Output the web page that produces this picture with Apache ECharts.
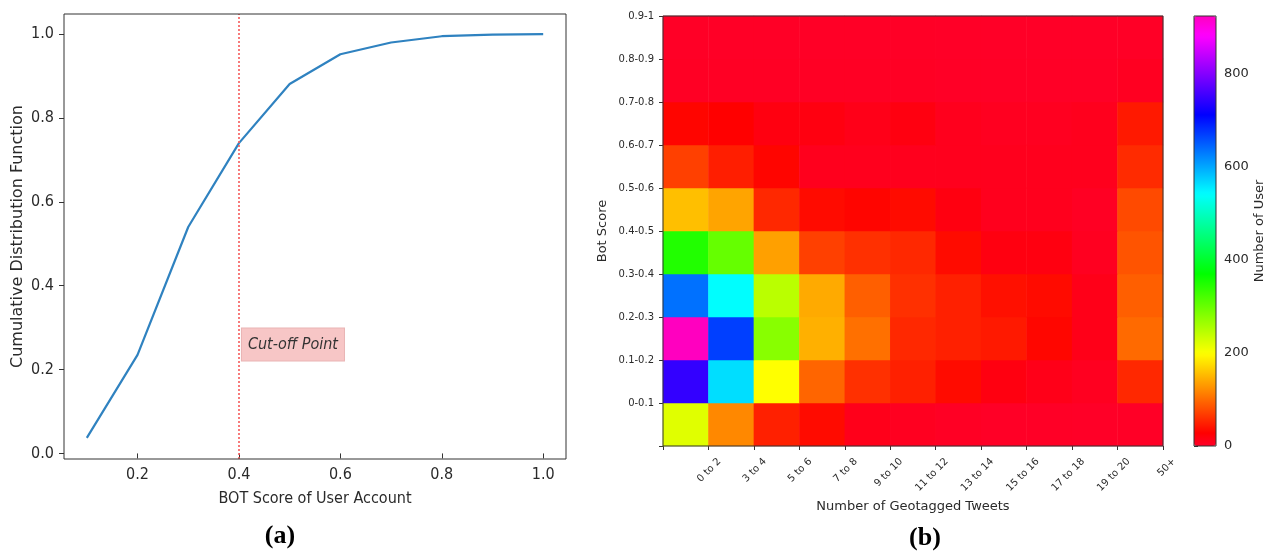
<!DOCTYPE html>
<html>
<head>
<meta charset="utf-8">
<script src="https://cdn.jsdelivr.net/npm/echarts@6/dist/echarts.min.js"></script>
<style>html,body{margin:0;padding:0;background:#fff;}#c{width:1268px;height:552px;}</style>
</head>
<body>
<div id="c"></div>
<script>
// ---------- Data: panel (a) CDF ----------
const cdfX = [0.1, 0.2, 0.3, 0.4, 0.5, 0.6, 0.7, 0.8, 0.9, 1.0];
const cdfY = [0.037, 0.235, 0.540, 0.740, 0.881, 0.952, 0.980, 0.995, 0.999, 1.0];
const cdfXTicks = [0.2, 0.4, 0.6, 0.8, 1.0];
const cdfYTicks = [0.0, 0.2, 0.4, 0.6, 0.8, 1.0];
const cutoffX = 0.4;
const cutoffLabelY = 0.26;
const cutoffText = 'Cut-off Point';

// ---------- Data: panel (b) heatmap ----------
const tweetLabels = ['0 to 2', '3 to 4', '5 to 6', '7 to 8', '9 to 10', '11 to 12', '13 to 14', '15 to 16', '17 to 18', '19 to 20', '50+'];
const botLabels = ['0-0.1', '0.1-0.2', '0.2-0.3', '0.3-0.4', '0.4-0.5', '0.5-0.6', '0.6-0.7', '0.7-0.8', '0.8-0.9', '0.9-1'];
// one array per bot-score row (bottom to top), 11 values each (left to right)
const row0 = [220, 119, 49, 35, 10, 6, 3, 2, 2, 1, 2];
const row1 = [746, 564, 199, 96, 60, 49, 35, 17, 11, 6, 55];
const row2 = [925, 670, 279, 146, 103, 55, 49, 44, 32, 11, 99];
const row3 = [637, 542, 245, 142, 92, 60, 49, 38, 35, 11, 92];
const row4 = [348, 302, 135, 71, 60, 55, 35, 17, 17, 6, 84];
const row5 = [156, 138, 55, 35, 31, 35, 17, 8, 8, 4, 77];
const row6 = [71, 48, 31, 8, 8, 8, 8, 8, 8, 8, 57];
const row7 = [31, 28, 17, 17, 11, 17, 8, 6, 6, 8, 44];
const row8 = [3, 3, 3, 3, 3, 3, 2, 2, 2, 2, 5];
const row9 = [2, 2, 2, 2, 2, 2, 1, 1, 1, 1, 2];
const heatRows = [row0, row1, row2, row3, row4, row5, row6, row7, row8, row9];
const colorMax = 925;
const colorbarTicks = [0, 200, 400, 600, 800];

// ---------- gist_rainbow colormap ----------
const gistStops = [[0, [1, 0, 0.16]], [0.03, [1, 0, 0]], [0.215, [1, 1, 0]], [0.4, [0, 1, 0]],
  [0.586, [0, 1, 1]], [0.77, [0, 0, 1]], [0.954, [1, 0, 1]], [1, [1, 0, 0.75]]];
function gist(t) {
  for (let i = 1; i < gistStops.length; i++) {
    const [t1, c1] = gistStops[i];
    const [t0, c0] = gistStops[i - 1];
    if (t <= t1) {
      const f = (t - t0) / (t1 - t0);
      const c = c0.map((v, k) => Math.round(255 * (v + (c1[k] - v) * f)));
      return 'rgb(' + c.join(',') + ')';
    }
  }
  return 'rgb(255,0,191)';
}
const cmap = [];
for (let i = 0; i <= 200; i++) cmap.push(gist(i / 200));

const heatData = [];
heatRows.forEach((row, r) => row.forEach((v, c) => heatData.push([c, r, v])));

const condensed = "'DejaVu Sans Condensed', 'DejaVu Sans', sans-serif";
const regular = "'DejaVu Sans', sans-serif";
const txt = '#2a2a2a';
const frame = '#333';
const cutColor = '#f55a5a';
const gridBase = { show: true, z: 10, backgroundColor: 'rgba(0,0,0,0)', borderColor: frame, borderWidth: 1, outerBoundsMode: 'none', containLabel: false };

const chart = echarts.init(document.getElementById('c'), null, { renderer: 'canvas' });
chart.setOption({
  backgroundColor: '#fff',
  animation: false,
  title: [
    { text: '(a)', left: 280, top: 523, textAlign: 'center', padding: 0,
      textStyle: { fontFamily: "'Liberation Serif', serif", fontWeight: 'bold', fontSize: 26, color: '#000' } },
    { text: '(b)', left: 925, top: 525, textAlign: 'center', padding: 0,
      textStyle: { fontFamily: "'Liberation Serif', serif", fontWeight: 'bold', fontSize: 26, color: '#000' } }
  ],
  grid: [
    Object.assign({ left: 64, top: 14, width: 502, height: 445 }, gridBase),
    Object.assign({ left: 663, top: 16, width: 500, height: 430 }, gridBase),
    Object.assign({ left: 1194, top: 16, width: 22, height: 430 }, gridBase),
    { left: 674, top: 16, width: 500, height: 430, show: false, outerBoundsMode: 'none', containLabel: false }
  ],
  xAxis: [
    { type: 'value', gridIndex: 0, position: 'bottom', min: 0.055, max: 1.045, splitLine: { show: false },
      axisLine: { show: false },
      axisTick: { show: true, length: 5, customValues: cdfXTicks, lineStyle: { color: frame } },
      axisLabel: { customValues: cdfXTicks, formatter: v => v.toFixed(1), margin: 8, fontSize: 16, fontFamily: condensed, color: txt },
      name: 'BOT Score of User Account', nameLocation: 'middle', nameGap: 32,
      nameTextStyle: { fontSize: 16, fontFamily: condensed, color: txt } },
    { type: 'category', gridIndex: 1, position: 'bottom', data: tweetLabels, show: false },
    { type: 'value', gridIndex: 1, position: 'bottom', offset: 0, min: 0, max: 11, interval: 1, splitLine: { show: false },
      axisLine: { show: false },
      axisTick: { show: true, length: 4, lineStyle: { color: frame } },
      axisLabel: { show: false },
      name: 'Number of Geotagged Tweets', nameLocation: 'middle', nameGap: 54,
      nameTextStyle: { fontSize: 13, fontFamily: regular, color: txt } },
    { type: 'value', gridIndex: 2, min: 0, max: 1, show: false },
    { type: 'value', gridIndex: 3, position: 'bottom', min: 0, max: 11, interval: 1, splitLine: { show: false },
      axisLine: { show: false }, axisTick: { show: false },
      axisLabel: { rotate: 45, margin: 14, fontSize: 10, fontFamily: regular, color: txt,
        formatter: v => (v === 0 ? '' : tweetLabels[v - 1]) } }
  ],
  yAxis: [
    { type: 'value', gridIndex: 0, position: 'left', min: -0.0133, max: 1.048, splitLine: { show: false },
      axisLine: { show: false },
      axisTick: { show: true, length: 5, customValues: cdfYTicks, lineStyle: { color: frame } },
      axisLabel: { customValues: cdfYTicks, formatter: v => v.toFixed(1), margin: 10, fontSize: 16, fontFamily: condensed, color: txt },
      name: 'Cumulative Distribution Function', nameLocation: 'middle', nameGap: 38,
      nameTextStyle: { fontSize: 16, fontFamily: regular, color: txt } },
    { type: 'category', gridIndex: 1, position: 'left', data: botLabels, show: false },
    { type: 'value', gridIndex: 1, position: 'left', offset: 0, min: 0, max: 10, interval: 1, splitLine: { show: false },
      axisLine: { show: false },
      axisTick: { show: true, length: 4, lineStyle: { color: frame } },
      axisLabel: { margin: 9, fontSize: 10, fontFamily: regular, color: txt,
        formatter: v => (v === 0 ? '' : botLabels[v - 1]) },
      name: 'Bot Score', nameLocation: 'middle', nameGap: 54,
      nameTextStyle: { fontSize: 13, fontFamily: regular, color: txt } },
    { type: 'value', gridIndex: 2, min: 0, max: colorMax, position: 'right', splitLine: { show: false },
      axisLine: { show: false },
      axisTick: { show: true, length: 4, customValues: colorbarTicks, lineStyle: { color: frame } },
      axisLabel: { customValues: colorbarTicks, margin: 8, fontSize: 13, fontFamily: regular, color: txt },
      name: 'Number of User', nameLocation: 'middle', nameGap: 37,
      nameTextStyle: { fontSize: 13, fontFamily: regular, color: txt } },
    { type: 'value', gridIndex: 3, min: 0, max: 1, show: false }
  ],
  visualMap: {
    type: 'continuous', min: 0, max: colorMax, seriesIndex: 1, dimension: 2,
    calculable: false, hoverLink: false, realtime: false,
    left: 1194, top: 16, itemWidth: 22, itemHeight: 430, padding: 0,
    inRange: { color: cmap }, textStyle: { color: 'transparent' }
  },
  series: [
    { type: 'line', xAxisIndex: 0, yAxisIndex: 0, showSymbol: false, symbol: 'none', z: 3,
      data: cdfX.map((x, i) => [x, cdfY[i]]),
      lineStyle: { color: '#2f82c0', width: 2.2 }, itemStyle: { color: '#2f82c0' },
      markPoint: { silent: true, symbol: 'circle', symbolSize: 0,
        data: [{ coord: [cutoffX, cutoffLabelY] }],
        label: { show: true, position: 'right', distance: 3, formatter: cutoffText,
          fontStyle: 'italic', fontSize: 16, fontFamily: condensed, color: '#333',
          backgroundColor: '#f7c6c6', borderColor: '#e9b4b4', borderWidth: 1, padding: [8, 6] } }
    },
    { type: 'heatmap', xAxisIndex: 1, yAxisIndex: 1, data: heatData,
      emphasis: { disabled: true }, itemStyle: { borderWidth: 0 } },
    { type: 'line', xAxisIndex: 0, yAxisIndex: 0, data: [], z: 2, silent: true,
      itemStyle: { color: cutColor },
      markLine: { silent: true, symbol: ['none', 'none'], label: { show: false },
        itemStyle: { color: cutColor },
        lineStyle: { color: cutColor, type: [2, 2], width: 1.6, opacity: 1 },
        emphasis: { disabled: true },
        data: [{ xAxis: cutoffX }] } }
  ]
});
</script>
</body>
</html>
